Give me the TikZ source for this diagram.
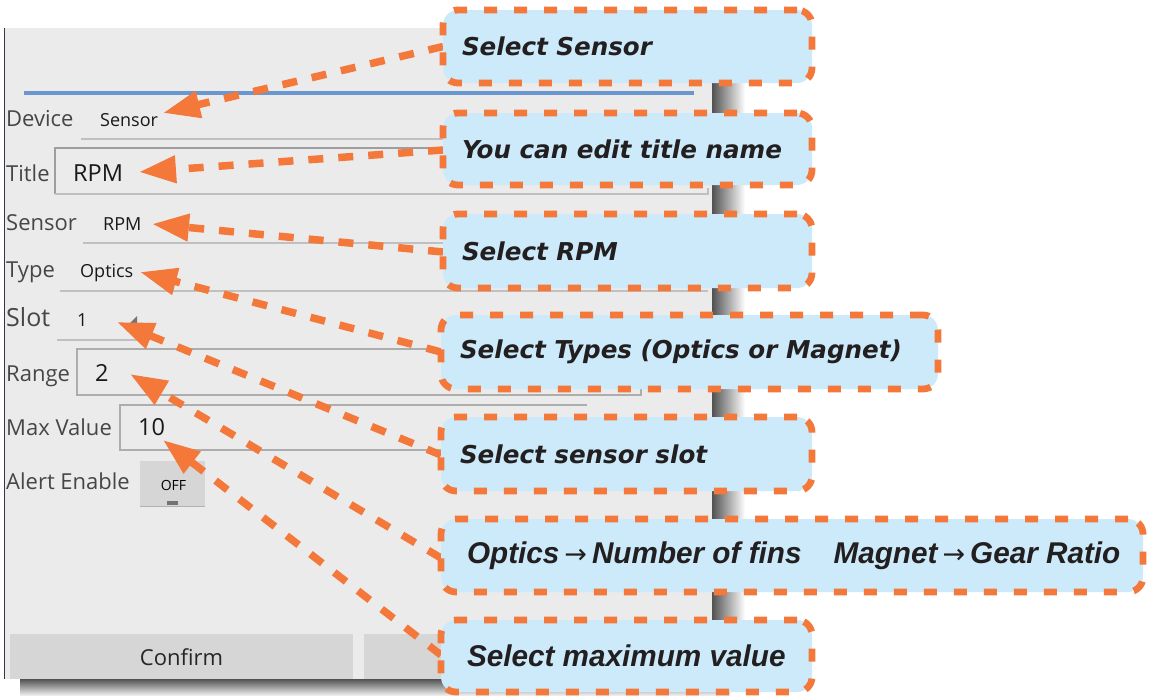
\documentclass[tikz,border=0pt]{standalone}
\usepackage{fontspec}
\usetikzlibrary{arrows.meta}
\newfontfamily\uifont{Open Sans}
\newfontfamily\callfont{DejaVu Sans}
\newfontfamily\condfont[FakeStretch=0.99]{Liberation Sans}
\definecolor{orng}{RGB}{243,120,58}
\definecolor{cbox}{RGB}{204,234,249}
\definecolor{ctext}{RGB}{35,31,32}
\definecolor{panel}{RGB}{235,235,235}
\definecolor{lblgray}{RGB}{70,70,70}
\definecolor{linegray}{RGB}{192,192,192}
\definecolor{btngray}{RGB}{214,214,214}
\definecolor{bluebar}{RGB}{106,151,208}
\begin{document}
\begin{tikzpicture}[x=1pt,y=-1pt,
  lbl/.style={font={\uifont\fontsize{22}{26}\selectfont}, text=lblgray, inner sep=0pt, anchor=base west},
  val/.style={font={\uifont\fontsize{18}{22}\selectfont}, text=black!90, inner sep=0pt, anchor=base west},
  bigval/.style={font={\uifont\fontsize{23.5}{27}\selectfont}, text=black!90, inner sep=0pt, anchor=base west},
  uline/.style={draw=linegray, line width=1.6pt},
  callout/.style={draw=orng, fill=cbox, line width=6.8pt, dash pattern=on 13pt off 17pt,
    rounded corners=15pt, inner ysep=0pt, text=ctext},
  vfont/.style={font={\callfont\bfseries\itshape\fontsize{24.6}{29}\selectfont}},
  cfont/.style={font={\condfont\bfseries\itshape\fontsize{30}{34}\selectfont}},
  arr/.style={draw=orng, line width=7.5pt, dash pattern=on 15pt off 15pt,
    -{Triangle[length=37pt,width=26pt]}}
]
\useasboundingbox (0,0) rectangle (1152,696);
\fill[white] (0,0) rectangle (1152,696);

% shadows
\shade[left color=black!68, right color=white] (712,34) rectangle (745,690);
\shade[top color=black!68, bottom color=white] (20,679) rectangle (730,697);
% panel
\fill[panel] (5,28) rectangle (712,679);
\draw[draw={rgb,255:red,50;green,55;blue,80}, line width=1.5pt] (4.5,28) -- (4.5,679);

% blue bar
\draw[bluebar, line width=4pt] (24,92.5) -- (694,92.5);

% Device row
\node[lbl] (lDevice) at (6,126) {Device};
\node[val] (vDevice) at (100,126) {Sensor};
\draw[uline] (81,139) -- (708,139);

% Title row
\draw[draw=black!38, line width=2pt] (708,148) -- (55,148) -- (55,194);
\draw[draw=black!25, line width=2pt] (55,194) -- (708,194) -- (708,188);
\node[lbl] (lTitle) at (6,181) {Title};
\node[bigval] (vTitle) at (73,181) {RPM};

% Sensor row
\node[lbl] (lSensor) at (6,230) {Sensor};
\node[val] (vSensor) at (103,230) {RPM};
\draw[uline] (83,243) -- (708,243);

% Type row
\node[lbl] (lType) at (6,277) {Type};
\node[val] (vType) at (80,277) {Optics};
\draw[uline] (60,291) -- (708,291);

% Slot row
\node[lbl, font={\uifont\fontsize{25}{29}\selectfont}] (lSlot) at (6,326) {Slot};
\node[val] (vSlot) at (77,326) {1};
\fill[black!55] (137,316) -- (137,328) -- (125,328) -- cycle;
\draw[uline] (57,340) -- (137,340);

% Range row
\draw[draw=black!32, line width=1.6pt] (641,349) -- (77,349) -- (77,395) -- (641,395) -- (641,389);
\node[lbl] (lRange) at (6,381) {Range};
\node[bigval] (vRange) at (95,381) {2};

% Max value row
\draw[draw=black!32, line width=1.6pt] (587,405) -- (120,405) -- (120,450) -- (587,450) -- (587,444);
\node[lbl] (lMax) at (6,435) {Max Value};
\node[bigval] (vMax) at (138,435) {10};

% Alert enable
\node[lbl] (lAlert) at (6,489) {Alert Enable};
\fill[btngray] (140,461) rectangle (205,507);
\draw[black!30, line width=1.2pt] (140,506.5) -- (205,506.5);
\node[font={\uifont\fontsize{14}{17}\selectfont}, inner sep=0pt, anchor=base] (vOff) at (173.5,490) {OFF};
\fill[black!55] (167,501) rectangle (178,505);

% buttons
\fill[btngray] (10,634) rectangle (353,679);
\fill[btngray] (364,634) rectangle (470,679);
\node[font={\uifont\fontsize{22}{26}\selectfont}, text=black!85, inner sep=0pt, anchor=base] (bConfirm) at (181.5,665) {Confirm};

% tips
\coordinate (t1) at (163,113);
\coordinate (t2) at (139,172);
\coordinate (t3) at (152,224);
\coordinate (t4) at (140,272);
\coordinate (t5) at (117,322);
\coordinate (t6) at (130,374);
\coordinate (t7) at (163,440);

% callout boxes (positions)
\coordinate (c1) at (627.5,46.5);
\coordinate (c2) at (627.5,149);
\coordinate (c3) at (627.5,251);
\coordinate (c4) at (689.5,352);
\coordinate (c5) at (626.5,454);
\coordinate (c6) at (792,555.5);
\coordinate (c7) at (626.5,656);

% arrows (drawn first, boxes cover their start)
\path (443,46.5) coordinate (s1) (443,150) coordinate (s2) (443,252) coordinate (s3)
      (441,352) coordinate (s4) (441,455) coordinate (s5) (441,558) coordinate (s6) (441,655) coordinate (s7);
\draw[arr] (s1) -- (t1);
\draw[arr] (s2) -- (t2);
\draw[arr] (s3) -- (t3);
\draw[arr] (s4) -- (t4);
\draw[arr] (s5) -- (t5);
\draw[arr] (s6) -- (t6);
\draw[arr] (s7) -- (t7);

\node[callout, vfont, inner xsep=19pt, minimum height=73pt] (b1) at (c1) {\makebox[331pt][l]{Select Sensor}};
\node[callout, vfont, inner xsep=19pt, minimum height=72pt] (b2) at (c2) {\makebox[331pt][l]{You can edit title name}};
\node[callout, vfont, inner xsep=19pt, minimum height=74pt] (b3) at (c3) {\makebox[331pt][l]{Select RPM}};
\node[callout, vfont, inner xsep=19pt, minimum height=74pt] (b4) at (c4) {\makebox[459pt][l]{Select Types (Optics or Magnet)}};
\node[callout, vfont, inner xsep=19pt, minimum height=74pt] (b5) at (c5) {\makebox[333pt][l]{Select sensor slot}};
\node[callout, cfont, inner xsep=26pt, minimum height=73pt] (b6) at (c6) {\makebox[650pt][l]{Optics\,{\callfont\mdseries\upshape\fontsize{27}{30}\selectfont→}\,Number of fins\hspace{32pt}Magnet\,{\callfont\mdseries\upshape\fontsize{27}{30}\selectfont→}\,Gear Ratio}};
\node[callout, cfont, inner xsep=26pt, minimum height=72pt] (b7) at (c7) {\makebox[319pt][l]{Select maximum value}};
\end{tikzpicture}
\end{document}
